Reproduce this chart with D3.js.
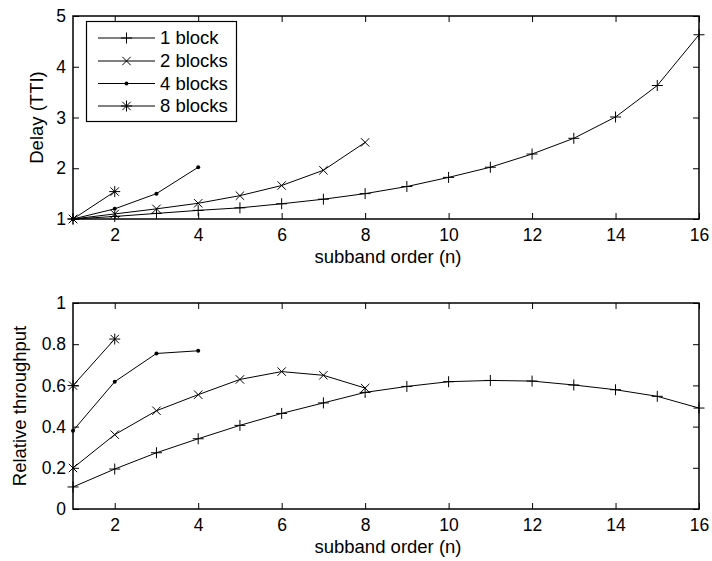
<!DOCTYPE html>
<html>
<head>
<meta charset="utf-8">
<script src="https://cdn.jsdelivr.net/npm/d3@7"></script>
<style>
  html, body { margin: 0; padding: 0; background: #fff; }
  svg { display: block; font-family: "Liberation Sans", Arial, sans-serif; }
</style>
</head>
<body>
<svg id="fig" width="712" height="561"></svg>
<script>
// Subband order n for each block configuration
const n1 = [1,2,3,4,5,6,7,8,9,10,11,12,13,14,15,16];
const n2 = [1,2,3,4,5,6,7,8];
const n4 = [1,2,3,4];
const n8 = [1,2];

// Delay (TTI)
const delay1 = [1.00,1.05,1.11,1.17,1.22,1.30,1.39,1.50,1.64,1.82,2.02,2.28,2.59,3.01,3.63,4.63];
const delay2 = [1.00,1.10,1.20,1.31,1.46,1.66,1.96,2.51];
const delay4 = [1.00,1.20,1.50,2.02];
const delay8 = [1.00,1.54];

// Relative throughput
const thr1 = [0.107,0.194,0.273,0.341,0.406,0.464,0.515,0.566,0.595,0.618,0.624,0.621,0.602,0.579,0.547,0.490];
const thr2 = [0.199,0.361,0.477,0.555,0.629,0.667,0.649,0.587];
const thr4 = [0.380,0.618,0.755,0.768];
const thr8 = [0.599,0.825];

const seriesNames = ["1 block", "2 blocks", "4 blocks", "8 blocks"];
const markerKinds = ["plus", "cross", "dot", "star"];

const xTicks = [2,4,6,8,10,12,14,16];
const delayTicks = [1,2,3,4,5];
const thrTicks = [0,0.2,0.4,0.6,0.8,1];

const xLabel = "subband order (n)";
const delayLabel = "Delay (TTI)";
const thrLabel = "Relative throughput";

const svg = d3.select("#fig");
const TICK_FS = 17.5;
const LABEL_FS = 18.5;

function marker(g, kind) {
  const s = 5.5, c = 4.2;
  if (kind === "plus" || kind === "star") {
    g.append("path").attr("d", `M${-s},0H${s}M0,${-s}V${s}`)
      .attr("stroke", "#000").attr("stroke-width", 1).attr("fill", "none");
  }
  if (kind === "cross" || kind === "star") {
    g.append("path").attr("d", `M${-c},${-c}L${c},${c}M${-c},${c}L${c},${-c}`)
      .attr("stroke", "#000").attr("stroke-width", 1).attr("fill", "none");
  }
  if (kind === "dot") {
    g.append("circle").attr("r", 2).attr("fill", "#000");
  }
}

function panel(opts) {
  const { left, right, top, bottom, yDomain, yTicks, yFmt, series, yLabel, yLabelX } = opts;
  const x = d3.scaleLinear().domain([1, 16]).range([left, right]);
  const y = d3.scaleLinear().domain(yDomain).range([bottom, top]);
  const g = svg.append("g");
  const tickLen = 6;

  // bottom axis (ticks pointing inward) + mirrored top ticks
  const xb = g.append("g").attr("transform", `translate(0,${bottom})`)
    .call(d3.axisBottom(x).tickValues(xTicks).tickSizeInner(-tickLen).tickSizeOuter(0).tickPadding(10));
  const xt = g.append("g").attr("transform", `translate(0,${top})`)
    .call(d3.axisTop(x).tickValues(xTicks).tickSizeInner(-tickLen).tickSizeOuter(0).tickFormat(""));
  const yl = g.append("g").attr("transform", `translate(${left},0)`)
    .call(d3.axisLeft(y).tickValues(yTicks).tickFormat(yFmt).tickSizeInner(-tickLen).tickSizeOuter(0).tickPadding(10));
  const yr = g.append("g").attr("transform", `translate(${right},0)`)
    .call(d3.axisRight(y).tickValues(yTicks).tickSizeInner(-tickLen).tickSizeOuter(0).tickFormat(""));
  [xb, xt, yl, yr].forEach(a => {
    a.select(".domain").remove();
    a.selectAll(".tick line").attr("stroke", "#000").attr("stroke-width", 1);
    a.selectAll("text").attr("fill", "#000").attr("font-size", TICK_FS)
      .attr("font-family", "Liberation Sans, Arial, sans-serif");
  });
  xb.selectAll("text").attr("dy", "0.71em");
  yl.selectAll("text").attr("dx", "3");

  // frame
  g.append("rect").attr("x", left).attr("y", top)
    .attr("width", right - left).attr("height", bottom - top)
    .attr("fill", "none").attr("stroke", "#000").attr("stroke-width", 1.5);

  // series lines and markers
  const line = d3.line().x(d => x(d[0])).y(d => y(d[1]));
  series.forEach((s, i) => {
    const pts = s.xs.map((v, k) => [v, s.ys[k]]);
    g.append("path").datum(pts).attr("d", line)
      .attr("fill", "none").attr("stroke", "#000").attr("stroke-width", 1);
    pts.forEach(p => {
      const m = g.append("g").attr("transform", `translate(${x(p[0])},${y(p[1])})`);
      marker(m, markerKinds[i]);
    });
  });

  // axis labels
  g.append("text").attr("x", (left + right) / 2 + 2).attr("y", bottom + 44)
    .attr("text-anchor", "middle").attr("font-size", LABEL_FS).text(xLabel);
  g.append("text")
    .attr("transform", `translate(${yLabelX},${(top + bottom) / 2}) rotate(-90)`)
    .attr("text-anchor", "middle").attr("font-size", LABEL_FS).text(yLabel);
  return { x, y };
}

panel({
  left: 73, right: 699, top: 16, bottom: 219,
  yDomain: [1, 5], yTicks: delayTicks, yFmt: d3.format("d"),
  series: [
    { xs: n1, ys: delay1 }, { xs: n2, ys: delay2 },
    { xs: n4, ys: delay4 }, { xs: n8, ys: delay8 }
  ],
  yLabel: delayLabel, yLabelX: 43
});

panel({
  left: 73, right: 699, top: 303, bottom: 509,
  yDomain: [0, 1], yTicks: thrTicks, yFmt: d => d === 0 || d === 1 ? String(d) : d3.format(".1f")(d),
  series: [
    { xs: n1, ys: thr1 }, { xs: n2, ys: thr2 },
    { xs: n4, ys: thr4 }, { xs: n8, ys: thr8 }
  ],
  yLabel: thrLabel, yLabelX: 26
});

// legend in the upper panel
const lg = svg.append("g");
lg.append("rect").attr("x", 86.5).attr("y", 21.5).attr("width", 150).attr("height", 100)
  .attr("fill", "#fff").attr("stroke", "#000").attr("stroke-width", 1.2);
const legY = [38, 61, 83.5, 106];
seriesNames.forEach((name, i) => {
  lg.append("line").attr("x1", 98).attr("x2", 155).attr("y1", legY[i]).attr("y2", legY[i])
    .attr("stroke", "#000").attr("stroke-width", 1);
  marker(lg.append("g").attr("transform", `translate(126.5,${legY[i]})`), markerKinds[i]);
  lg.append("text").attr("x", 160).attr("y", legY[i]).attr("dy", "0.35em")
    .attr("font-size", LABEL_FS).attr("fill", "#000").text(name);
});
</script>
</body>
</html>
